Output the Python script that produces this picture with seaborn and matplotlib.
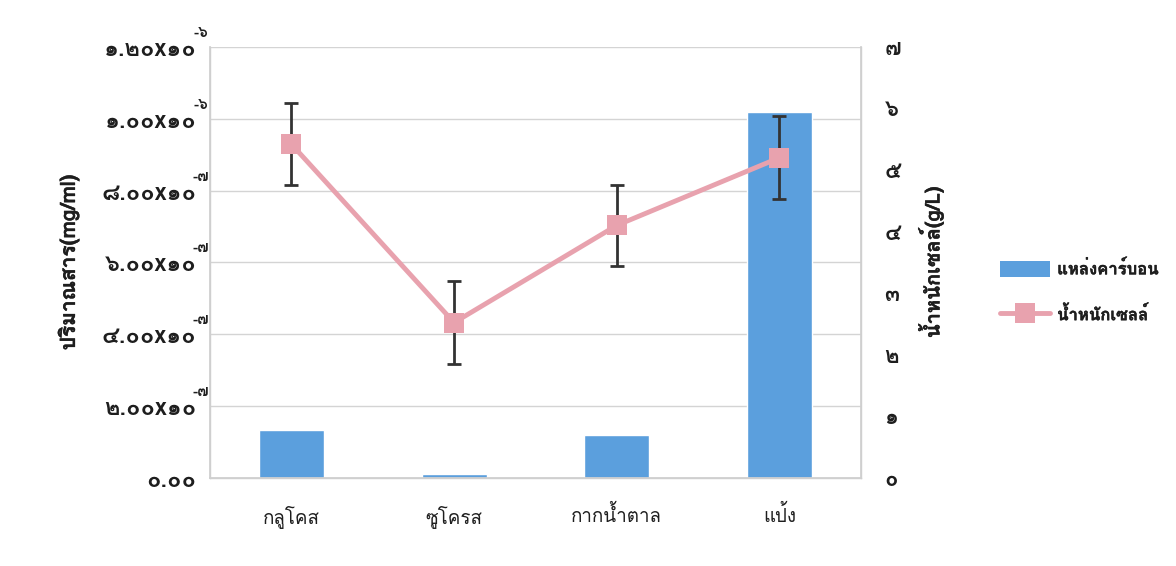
import matplotlib
matplotlib.use("Agg")
import matplotlib.pyplot as plt
from matplotlib import font_manager
from matplotlib.ft2font import FT2Font
from matplotlib.lines import Line2D
from matplotlib.patches import Patch
import matplotlib.patheffects as pe
import seaborn as sns
import pandas as pd
import numpy as np

# ---------------- data ----------------
categories = ["กลูโคส", "ซูโครส", "กากน้ำตาล", "แป้ง"]
carbon_amount = [1.34e-7, 1.0e-8, 1.19e-7, 1.019e-6]      # left axis (mg/ml)
cell_weight = [5.42, 2.52, 4.10, 5.20]                     # right axis (g/L)
cell_weight_err = [0.67, 0.67, 0.66, 0.67]

left_tick_values = [0.0, 2e-7, 4e-7, 6e-7, 8e-7, 1.0e-6, 1.2e-6]
left_tick_main = ["๐.๐๐", "๒.๐๐x๑๐", "๔.๐๐x๑๐", "๖.๐๐x๑๐", "๘.๐๐x๑๐", "๑.๐๐x๑๐", "๑.๒๐x๑๐"]
left_tick_exp = ["", "-๗", "-๗", "-๗", "-๗", "-๖", "-๖"]
right_tick_values = [0, 1, 2, 3, 4, 5, 6, 7]
right_tick_labels = ["๐", "๑", "๒", "๓", "๔", "๕", "๖", "๗"]

left_label = "ปริมาณสาร(mg/ml)"
right_label = "น้ำหนักเซลล์(g/L)"
legend_bar = "แหล่งคาร์บอน"
legend_line = "น้ำหนักเซลล์"

# ---------------- fonts ----------------
def find_thai_fonts():
    regular, bold = None, None
    for f in font_manager.fontManager.ttflist:
        try:
            cmap = FT2Font(f.fname).get_charmap()
        except Exception:
            continue
        if 0x0E01 in cmap and 0x0E51 in cmap:
            w = f.weight if isinstance(f.weight, int) else (700 if "bold" in str(f.weight).lower() else 400)
            if w >= 600:
                bold = bold or f.name
            else:
                regular = regular or f.name
    return regular or bold, bold or regular

sns.set_theme(style="white")
thai_reg, _ = find_thai_fonts()
fam = [thai_reg] if thai_reg else []
fam += ["DejaVu Sans"]
plt.rcParams["font.family"] = fam

TXT = "#1e1e1e"
BOLD_LIGHT = [pe.withStroke(linewidth=0.3, foreground=TXT)]

# ---------------- figure ----------------
fig = plt.figure(figsize=(11.76, 5.66), dpi=100)
fig.patch.set_facecolor("white")
ax = fig.add_axes([0.1786, 0.1562, 0.732 - 0.1786, 0.917 - 0.1562])

df = pd.DataFrame({"cat": categories, "amount": carbon_amount})
sns.barplot(data=df, x="cat", y="amount", ax=ax, color="#5B9FDD",
            width=0.4, saturation=1)
ax.set_xlim(-0.5, len(categories) - 0.5)
ax.set_ylim(0, 1.2e-6)
ax.set_yticks(left_tick_values)
ax.set_yticklabels(left_tick_main, fontsize=17, fontweight="bold", color=TXT)
ax.tick_params(axis="y", pad=10, length=0)
ax.tick_params(axis="x", length=0, pad=20)
for lab in ax.get_xticklabels():
    lab.set_fontsize(13.5)
    lab.set_color(TXT)
ax.set_xlabel("")
ax.set_ylabel(left_label, fontsize=15, fontweight="bold", color=TXT, labelpad=16)
ax.yaxis.label.set_path_effects(BOLD_LIGHT)
ax.grid(axis="y", color="#d4d4d4", linewidth=1)
ax.set_axisbelow(True)
ax.spines["top"].set_visible(False)
for s in ["left", "right", "bottom"]:
    ax.spines[s].set_color("#cfcfcf")
    ax.spines[s].set_linewidth(1)

for v, e in zip(left_tick_values, left_tick_exp):
    if e:
        ax.annotate(e, xy=(0, v), xycoords=("axes fraction", "data"),
                    xytext=(-1, 5), textcoords="offset points",
                    ha="right", va="bottom", fontsize=11, fontweight="bold",
                    color=TXT, annotation_clip=False)

ax2 = ax.twinx()
x = np.arange(len(categories))
ax2.errorbar(x, cell_weight, yerr=cell_weight_err, fmt="none",
             ecolor="#333333", elinewidth=2, capsize=5, capthick=2, zorder=3)
sns.lineplot(x=x, y=cell_weight, ax=ax2, color="#E8A2AE", linewidth=3.5,
             marker="s", markersize=14, markeredgewidth=0, zorder=4)
ax2.set_ylim(0, 7)
ax2.set_yticks(right_tick_values)
ax2.set_yticklabels(right_tick_labels, fontsize=16, fontweight="bold", color=TXT)
ax2.tick_params(axis="y", pad=17, length=0)
ax2.set_ylabel(right_label, fontsize=14.5, fontweight="bold", color=TXT, labelpad=12)
ax2.yaxis.label.set_path_effects(BOLD_LIGHT)
ax2.grid(False)
ax2.spines["top"].set_visible(False)
for s in ["left", "right", "bottom"]:
    ax2.spines[s].set_color("#cfcfcf")

handles = [Patch(facecolor="#5B9FDD", edgecolor="none"),
           Line2D([0], [0], color="#E8A2AE", linewidth=3.5, marker="s",
                  markersize=14, markeredgewidth=0)]
leg = fig.legend(handles, [legend_bar, legend_line], loc="center left",
                 bbox_to_anchor=(0.838, 0.485), frameon=False,
                 prop={"size": 12, "weight": "bold"}, handlelength=3.0,
                 handleheight=1.1, labelspacing=1.7, handletextpad=0.4)
for t in leg.get_texts():
    t.set_color(TXT)
    t.set_path_effects(BOLD_LIGHT)

fig.savefig("out.png", dpi=100, facecolor="white")
